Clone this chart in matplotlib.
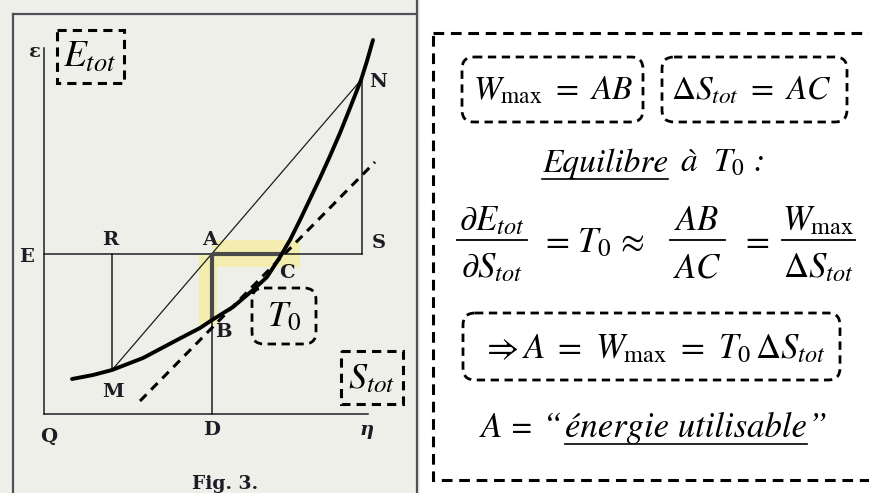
import matplotlib
matplotlib.use('Agg')
import matplotlib.pyplot as plt
from matplotlib.patches import Rectangle, FancyBboxPatch

plt.rcParams['mathtext.fontset'] = 'stix'

# courbe de Gibbs (eta = entropie, eps = energie)
curve_eta = [2.8, 4.9, 6.8, 9.9, 13.3, 15.6, 16.8, 18.9, 20.9, 22.3, 23.6, 24.6,
             25.6, 26.6, 27.6, 28.6, 29.6, 30.6, 31.7, 32.3, 32.9]
curve_eps = [3.5, 3.9, 4.4, 5.6, 7.4, 8.6, 9.4, 10.7, 12.4, 13.7, 15.7, 17.4,
             19.4, 21.5, 23.6, 25.8, 28.1, 30.6, 33.4, 35.3, 37.4]

# points de la construction
Q = (0.0, 0.0)
A = (16.8, 16.0)
B = (16.8, 9.4)
C = (23.8, 16.0)
M = (6.8, 4.4)
N = (31.7, 33.4)
S = (31.8, 16.0)
R = (6.8, 16.0)
D = (16.8, 0.0)
eps_top = 36.6
eta_right = 32.4

# tangente en pointilles
tan_eta = [9.6, 33.1]
tan_eps = [1.3, 25.2]

labels = ['ɛ', 'E', 'R', 'A', 'S', 'N', 'C', 'B', 'M', 'Q', 'D']
label_eta = [-0.9, -1.7, 6.6, 16.6, 33.5, 33.4, 24.3, 17.9, 6.9, 0.5, 16.8]
label_eps = [36.2, 15.7, 17.4, 17.4, 17.1, 33.2, 14.1, 8.2, 2.2, -2.3, -1.6]

W, H = 870, 493
fig = plt.figure(figsize=(W / 100, H / 100), dpi=100)

# --- page scannee (unites du diagramme : 10 px par unite) ---
ax = fig.add_axes([0, 0, 420 / W, 1])
ax.set_xlim(-4.4, 37.6)
ax.set_ylim(-7.9, 41.4)
ax.set_facecolor('#efefe9')
for s in ax.spines.values():
    s.set_visible(False)
ax.set_xticks([])
ax.set_yticks([])

ink = '#1c1c24'
# surlignage jaune
ax.add_patch(Rectangle((16.9, 14.7), 8.7, 2.7, color='#f3eeb0', lw=0, zorder=1))
ax.add_patch(Rectangle((15.5, 8.9), 1.8, 7.0, color='#f3eeb0', lw=0, zorder=1))

ax.plot([Q[0], Q[0]], [Q[1], eps_top], color=ink, lw=1.1, zorder=2)
ax.plot([Q[0], eta_right], [Q[1], Q[1]], color=ink, lw=1.1, zorder=2)
ax.plot([Q[0], S[0]], [A[1], S[1]], color=ink, lw=1.1, zorder=2)
ax.plot([S[0], S[0]], [S[1], N[1]], color=ink, lw=1.1, zorder=2)
ax.plot([R[0], M[0]], [R[1], M[1]], color=ink, lw=1.1, zorder=2)
ax.plot([D[0], A[0]], [D[1], A[1]], color=ink, lw=1.1, zorder=2)
ax.plot([M[0], N[0]], [M[1], N[1]], color=ink, lw=0.9, zorder=2)
ax.plot([A[0], B[0]], [A[1], B[1]], color='#4a4a4a', lw=3.0, zorder=3, solid_capstyle='butt')
ax.plot([A[0], C[0]], [A[1], C[1]], color='#4a4a4a', lw=3.0, zorder=3, solid_capstyle='butt')
ax.plot(curve_eta, curve_eps, color='black', lw=2.8, zorder=4,
        solid_capstyle='round', solid_joinstyle='round')
ax.plot(tan_eta, tan_eps, color='black', lw=2.2, ls=(0, (3, 2.2)), zorder=4)

for lab, x, y in zip(labels, label_eta, label_eps):
    ax.text(x, y, lab, fontsize=14, family='DejaVu Serif', weight='bold',
            color=ink, ha='center', va='center', zorder=5)
ax.text(32.3, -1.6, 'η', fontsize=14, family='DejaVu Serif', weight='bold',
        style='italic', color=ink, ha='center', va='center')
ax.text(18.1, -7.0, 'Fig. 3.', fontsize=13.5, family='DejaVu Serif', weight='bold',
        color=ink, ha='center', va='center')

# --- calque en pixels pour les annotations ---
ov = fig.add_axes([0, 0, 1, 1])
ov.set_xlim(0, W)
ov.set_ylim(H, 0)
ov.axis('off')
ov.patch.set_alpha(0)

border = '#50505a'
ov.plot([13, 13], [14, H], color=border, lw=1.6)
ov.plot([13, 417], [14, 14], color=border, lw=1.6)
ov.plot([417, 417], [0, H], color=border, lw=1.6)

dash = (0, (3, 2))


def dbox(x0, y0, x1, y1, r=0):
    if r:
        p = FancyBboxPatch((x0, y0), x1 - x0, y1 - y0,
                           boxstyle=f'round,pad=0,rounding_size={r}',
                           fill=False, ec='black', lw=2.0, ls=dash)
    else:
        p = Rectangle((x0, y0), x1 - x0, y1 - y0, fill=False,
                      ec='black', lw=2.2, ls=dash)
    ov.add_patch(p)


dbox(57, 30, 124, 83)
dbox(252, 288, 316, 344, r=12)
dbox(341, 351, 403, 404)
ov.text(90, 57, r'$E_{tot}$', fontsize=27, ha='center', va='center')
ov.text(284, 316, r'$T_0$', fontsize=26, ha='center', va='center')
ov.text(372, 378, r'$S_{tot}$', fontsize=26, ha='center', va='center')

# --- encadre de droite ---
ov.add_patch(Rectangle((433, 33), 450, 447, fill=False, ec='black', lw=2.2,
                       ls=(0, (3.5, 2.2)), clip_on=True))
dbox(462, 57, 643, 122, r=12)
dbox(662, 57, 847, 122, r=12)
dbox(463, 313, 840, 380, r=12)

ov.text(553, 90, r'$W_{\mathrm{max}}\ =\ AB$', fontsize=24, ha='center', va='center')
ov.text(751, 90, r'$\Delta S_{tot}\ =\ AC$', fontsize=24, ha='center', va='center')


def frac(cx, x0, x1, num, den):
    ov.text(cx, 230, num, fontsize=25, ha='center', va='baseline')
    ov.text(cx, 277, den, fontsize=25, ha='center', va='baseline')
    ov.plot([x0, x1], [240, 240], color='black', lw=1.3)


frac(492, 457, 527, r'$\partial E_{tot}$', r'$\partial S_{tot}$')
frac(697, 670, 725, r'$AB$', r'$AC$')
frac(818, 782, 855, r'$W_{\mathrm{max}}$', r'$\Delta S_{tot}$')
for x, sym in [(557, '='), (632, '≈'), (757, '=')]:
    ov.text(x, 252, sym, fontsize=25, family='STIXGeneral', ha='center', va='baseline')
ov.text(594, 252, r'$T_0$', fontsize=26, ha='center', va='baseline')

ov.text(653, 348, r'$\Rightarrow A\ =\ W_{\mathrm{max}}\ =\ T_0\,\Delta S_{tot}$',
        fontsize=25, ha='center', va='center')

renderer = fig.canvas.get_renderer()


def text_row(cx, y, parts, size):
    # parts : (texte, souligne, espace apres)
    arts = []
    total = 0
    for s, und, gap in parts:
        t = ov.text(0, y, s, fontsize=size, family='STIXGeneral', style='italic',
                    ha='left', va='baseline')
        w = t.get_window_extent(renderer=renderer).width
        arts.append((t, und, w, gap))
        total += w + gap
    x = cx - total / 2
    for t, und, w, gap in arts:
        t.set_x(x)
        if und:
            ov.plot([x, x + w], [y + 7, y + 7], color='black', lw=1.2)
        x += w + gap


text_row(653, 172, [('Equilibre', True, 12), (r'à  $T_{\mathit{0}}$ :', False, 0)], 24)
text_row(654, 437, [('A = “', False, 2), ('énergie utilisable', True, 1), ('”', False, 0)], 25)

fig.savefig('out.png', dpi=100)
